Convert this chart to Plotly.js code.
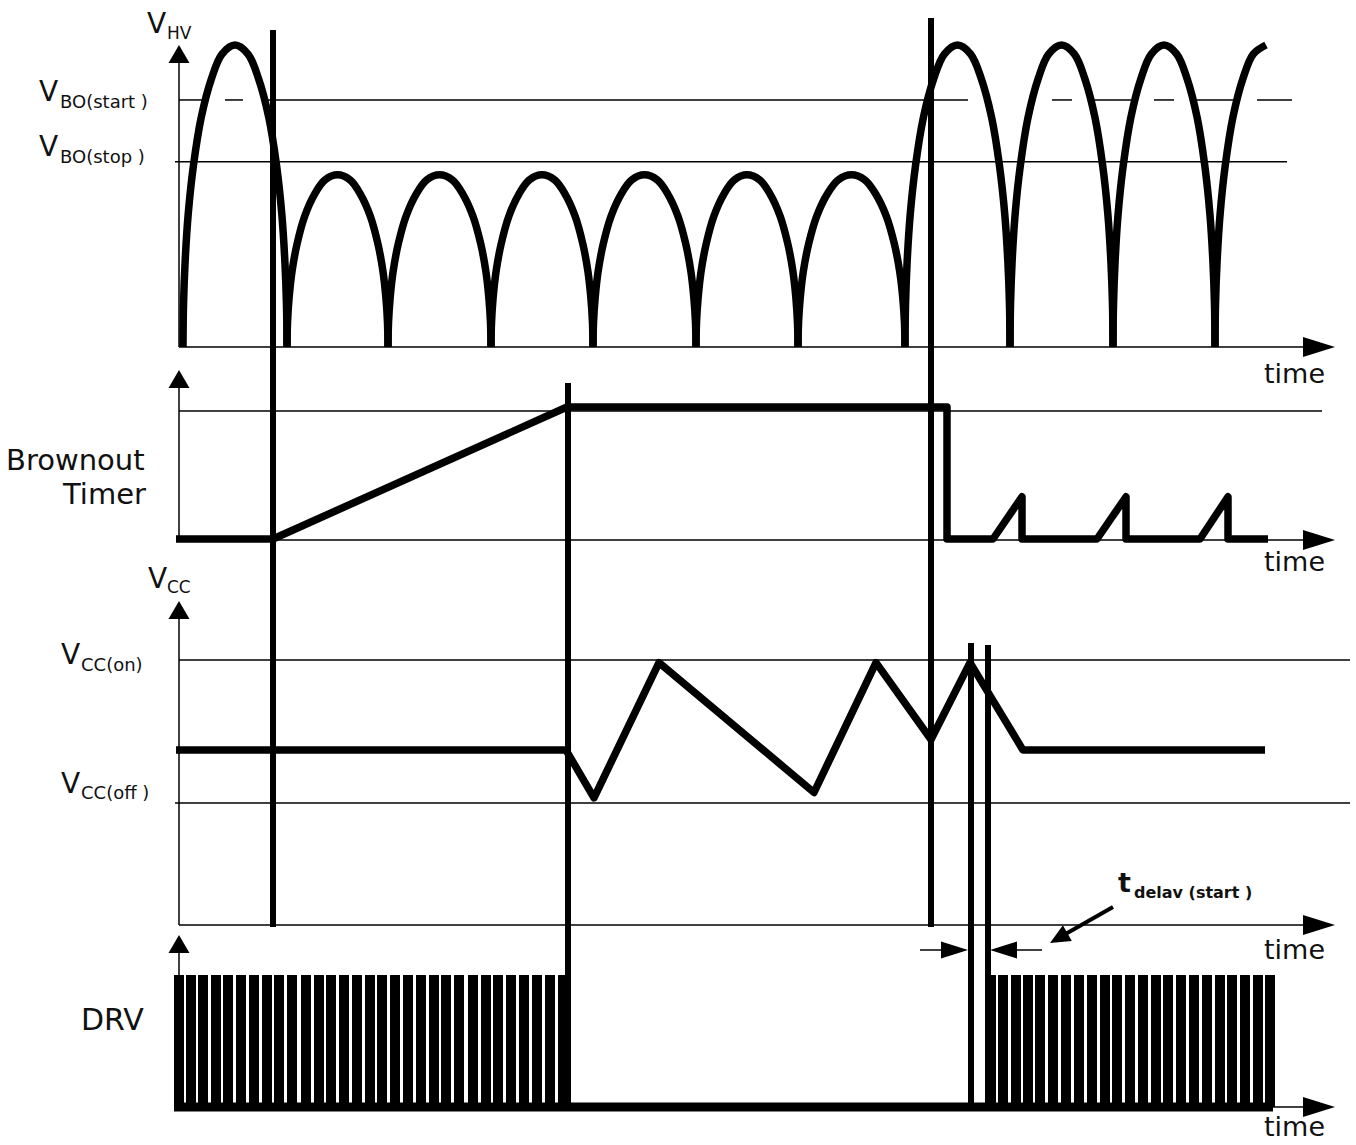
<!DOCTYPE html>
<html><head><meta charset="utf-8">
<script src="https://cdn.plot.ly/plotly-3.0.1.min.js"></script>
<style>
html,body{margin:0;padding:0;background:#fff;}
#chart{width:1356px;height:1145px;}
.scatterlayer .js-line{stroke-linejoin:round;}
</style></head><body><div id="chart"></div><script>
// ================= DATA (time in arbitrary units, t = 0 at the vertical axes) =================
// event instants: brown-out detected, brown-out timer expired, VHV back above VBO(start), VCC(on) reached, DRV restart
const eventTimes = [94, 389, 752, 792, 809];

// VHV : rectified mains arches (start / end of each arch, normalised peak value)
const archStart = [4, 108, 209, 312, 414, 517, 619, 726, 831, 934, 1036];
const archEnd   = [108, 209, 312, 414, 517, 619, 726, 831, 934, 1036, 1138];
const archPeak  = [1, 0.57, 0.57, 0.57, 0.57, 0.57, 0.57, 1, 1, 1, 1];
const vhvEnd = 1087;
// shape of one arch (position across the arch, fraction of peak)
const archProfileX = [-1, -0.99, -0.96, -0.9, -0.8, -0.65, -0.45, -0.25, 0, 0.25, 0.45, 0.65, 0.8, 0.9, 0.96, 0.99, 1];
const archProfileY = [0, 0.14, 0.28, 0.44, 0.6, 0.76, 0.89, 0.97, 1, 0.97, 0.89, 0.76, 0.6, 0.44, 0.28, 0.14, 0];
const VBO_START = 0.818, VBO_STOP = 0.613;
const vboStartSegments = [[0,24],[46,64],[86,789],[873,893],[914,956],[975,995],[1016,1058],[1078,1113]];
const vboStopSpan = [-4, 1108];

// Brownout timer (normalised)
const timerT = [-3, 94, 388, 768, 768, 814, 843, 843, 918, 947, 947, 1021, 1049, 1049, 1089];
const timerV = [0, 0, 1, 1, 0, 0, 0.32, 0, 0, 0.32, 0, 0, 0.32, 0, 0];
const TIMER_FULL = 0.97;
const timerFullSpan = [0, 1143];

// VCC (normalised, VCC(on) = 1)
const vccT = [-3, 387, 415, 480, 635, 697, 752, 791, 844, 1086];
const vccV = [0.66, 0.66, 0.48, 0.99, 0.5, 0.99, 0.7, 0.99, 0.66, 0.66];
const VCC_ON = 1.0, VCC_OFF = 0.46;
const vccOnSpan = [0, 1171], vccOffSpan = [-4, 1171];

// DRV pulse centres
const drvPulses = [-0.5, 12, 24.3, 36.7, 49, 61.8, 74.7, 87.5, 100.3, 113.3, 126.7, 139.5, 152, 165, 178.2, 190.9,
  203.2, 216, 229, 241.8, 254.7, 267.3, 280.3, 293.7, 306.5, 319.3, 332.2, 344.7, 357.7, 370.5, 384,
  811.5, 824, 836.5, 849, 861.3, 874.3, 887.3, 899.8, 912.7, 925.5, 938, 950.7, 963.7, 976.5, 989.3, 1002.2,
  1014.7, 1027.7, 1040.7, 1053.2, 1066, 1078.5, 1091];
const drvLowSpan = [-5, 1094];

// ================= LAYOUT HELPERS =================
const W = 1356, H = 1145, X0 = 179;
const px = x => x / W, py = y => 1 - y / H;
// each panel: pixel row of value 0 and pixels per unit
const panels = {vhv:[347, 302], timer:[539, 132], vcc:[925, 265], drv:[1107, 132]};
const rng = p => [(p[0] - H) / p[1], p[0] / p[1]];

const black = '#000';
const shapes = [];
const lineP = (x0, y0, x1, y1, w) => shapes.push({type:'line', xref:'paper', yref:'paper',
  x0:px(x0), y0:py(y0), x1:px(x1), y1:py(y1), line:{color:black, width:w}});
const tri = (pts) => shapes.push({type:'path', xref:'paper', yref:'paper',
  path: 'M' + pts.map(p => px(p[0]) + ',' + py(p[1])).join('L') + 'Z', fillcolor:black, line:{width:0}});
function head(tip, from, len, hw) {
  const dx = tip[0] - from[0], dy = tip[1] - from[1], L = Math.hypot(dx, dy);
  const ux = dx / L, uy = dy / L, bx = tip[0] - ux * len, by = tip[1] - uy * len;
  tri([tip, [bx - uy * hw, by + ux * hw], [bx + uy * hw, by - ux * hw]]);
}

// axes (decoration)
const yAxisTips = [[347, 45], [540, 370], [925, 601], [1107, 935]];
yAxisTips.forEach(([b, t]) => { lineP(X0, b, X0, t + 10, 1.5); head([X0, t], [X0, b], 18, 10.5); });
const xAxisRows = [347, 540, 925, 1107];
xAxisRows.forEach(r => { lineP(X0, r, 1310, r, 1.5); head([1335, r], [X0, r], 32, 10); });

// reference levels (data)
const refLine = (t0, t1, v, yref) => shapes.push({type:'line', xref:'x', yref:yref, x0:t0, x1:t1, y0:v, y1:v,
  line:{color:black, width:1.5}});
vboStartSegments.forEach(s => refLine(s[0], s[1], VBO_START, 'y'));
refLine(vboStopSpan[0], vboStopSpan[1], VBO_STOP, 'y');
refLine(timerFullSpan[0], timerFullSpan[1], TIMER_FULL, 'y2');
refLine(vccOnSpan[0], vccOnSpan[1], VCC_ON, 'y3');
refLine(vccOffSpan[0], vccOffSpan[1], VCC_OFF, 'y3');

// event markers
const eventExtent = [[30, 927], [383, 1107], [18, 927], [643, 1108], [645, 1108]];
eventTimes.forEach((t, i) => shapes.push({type:'line', xref:'x', yref:'paper', x0:t, x1:t,
  y0:py(eventExtent[i][1]), y1:py(eventExtent[i][0]), line:{color:black, width:6}}));

// t_delay(start) dimension arrows
const tdY = 950;
lineP(920, tdY, 950, tdY, 1.5);
head([968, tdY], [920, tdY], 27, 8.5);
lineP(1010, tdY, 1042, tdY, 1.5);
head([990, tdY], [1042, tdY], 27, 8.5);
lineP(1113, 907, 1062, 936, 4);
head([1050, 943], [1113, 907], 20, 9);

// ================= TRACES =================
const vx = [], vy = [];
archStart.forEach((s, i) => {
  const c = (s + archEnd[i]) / 2, hw = (archEnd[i] - s) / 2;
  archProfileX.forEach((d, k) => {
    const t = c + d * hw;
    if (t <= vhvEnd + 0.01) { vx.push(t); vy.push(archProfileY[k] * archPeak[i]); }
  });
  vx.push(null); vy.push(null);
});

const traces = [
  {x:vx, y:vy, yaxis:'y', mode:'lines', line:{color:black, width:7.5, shape:'spline', smoothing:1}, hoverinfo:'skip'},
  {x:timerT, y:timerV, yaxis:'y2', mode:'lines', line:{color:black, width:7.5}, hoverinfo:'skip'},
  {x:vccT, y:vccV, yaxis:'y3', mode:'lines', line:{color:black, width:7.5}, hoverinfo:'skip'},
  {type:'bar', x:drvPulses, y:drvPulses.map(() => 1), base:0, width:10, yaxis:'y4',
   marker:{color:black, line:{width:0}}, hoverinfo:'skip'},
  {x:drvLowSpan, y:[0, 0], yaxis:'y4', mode:'lines', line:{color:black, width:9}, hoverinfo:'skip'}
];

// ================= TEXT =================
const F = 'DejaVu Sans';
const ann = [];
const txt = (text, x, y, size, xanchor, bold) => ann.push({text: bold ? '<b>' + text + '</b>' : text,
  xref:'paper', yref:'paper', x:px(x), y:py(y), xanchor:xanchor || 'left', yanchor:'middle', showarrow:false,
  font:{family:F, size:size, color:'#111'}});
txt('V', 145, 24, 28); txt('HV', 165, 33, 17);
txt('V', 37, 91, 28); txt('BO(start )', 58, 101, 18);
txt('V', 37, 146, 28); txt('BO(stop )', 58, 156, 18);
txt('Brownout', 147, 460, 29, 'right');
txt('Timer', 148, 494, 29, 'right');
txt('V', 146, 578, 28); txt('CC', 165, 587, 17);
txt('V', 59, 654, 28); txt('CC(on)', 79, 664, 18);
txt('V', 59, 783, 28); txt('CC(off )', 79, 792, 18);
txt('DRV', 146, 1019, 30, 'right');
const timeRows = [374, 561, 949, 1126];
timeRows.forEach(r => txt('time', 1294, r, 27, 'center'));
txt('t', 1116, 882, 27, 'left', true);
txt('delav (start )', 1132, 892, 16, 'left', true);

// ================= LAYOUT =================
const ax = r => ({range:r, visible:false, fixedrange:true});
const layout = {
  width:W, height:H, margin:{l:0, r:0, t:0, b:0}, paper_bgcolor:'#fff', plot_bgcolor:'#fff',
  showlegend:false, bargap:0,
  xaxis:{range:[-X0, W - X0], visible:false, fixedrange:true, domain:[0, 1]},
  yaxis:ax(rng(panels.vhv)),
  yaxis2:Object.assign(ax(rng(panels.timer)), {overlaying:'y'}),
  yaxis3:Object.assign(ax(rng(panels.vcc)), {overlaying:'y'}),
  yaxis4:Object.assign(ax(rng(panels.drv)), {overlaying:'y'}),
  shapes:shapes, annotations:ann
};
Plotly.newPlot('chart', traces, layout, {staticPlot:true, displayModeBar:false});
</script></body></html>
